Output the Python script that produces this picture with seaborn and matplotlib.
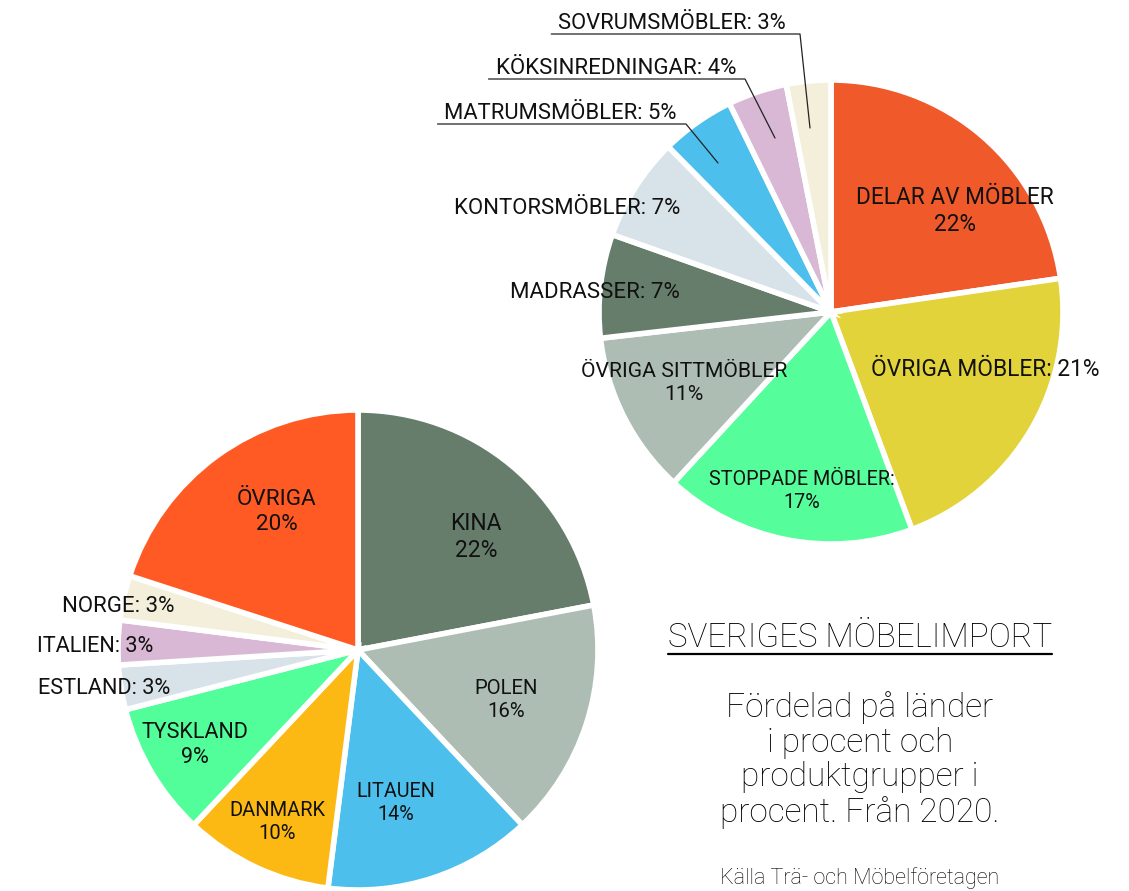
import matplotlib
matplotlib.use("Agg")
import matplotlib.pyplot as plt
import seaborn as sns
from matplotlib.lines import Line2D

# ---------------- data ----------------
country_labels = ["KINA", "POLEN", "LITAUEN", "DANMARK", "TYSKLAND",
                  "ESTLAND", "ITALIEN", "NORGE", "ÖVRIGA"]
country_values = [22, 16, 14, 10, 9, 3, 3, 3, 20]

product_labels = ["DELAR AV MÖBLER", "ÖVRIGA MÖBLER", "STOPPADE MÖBLER",
                  "ÖVRIGA SITTMÖBLER", "MADRASSER", "KONTORSMÖBLER",
                  "MATRUMSMÖBLER", "KÖKSINREDNINGAR", "SOVRUMSMÖBLER"]
product_values = [22, 21, 17, 11, 7, 7, 5, 4, 3]

title = "SVERIGES MÖBELIMPORT"
subtitle = "Fördelad på länder\ni procent och\nproduktgrupper i\nprocent. Från 2020."
source = "Källa Trä- och Möbelföretagen"

# ---------------- styles ----------------
country_colors = ["#667D6C", "#ADBDB3", "#4DBFED", "#FDB913", "#52FE9A",
                  "#D8E3E9", "#D8B8D4", "#F3EFDB", "#FF5A24"]
product_colors = ["#F05A2A", "#E2D33A", "#55FE9B", "#ADBDB3", "#667D6C",
                  "#D8E3E9", "#4DBFED", "#D8B8D4", "#F3EFDB"]

sns.set_theme(style="white")
plt.rcParams['font.family'] = ['Roboto', 'DejaVu Sans']

W, H = 1129, 891
fig = plt.figure(figsize=(W / 100, H / 100), dpi=100)
ax = fig.add_axes([0, 0, 1, 1])


def P(x, y):
    return (x, H - y)


wp = dict(edgecolor="white", linewidth=4)
ax.pie(product_values, colors=product_colors, startangle=90, counterclock=False,
       center=P(831, 312), radius=232, wedgeprops=wp)
ax.pie(country_values, colors=country_colors, startangle=90, counterclock=False,
       center=P(358, 650), radius=240, wedgeprops=wp)

ax.set_xlim(0, W)
ax.set_ylim(0, H)
ax.set_aspect("auto")
ax.axis("off")


def pct(v):
    return f"{v}%"


# label layout: index -> (text style, x, y, ha, fontsize)
top_layout = {
    0: ("two", 955, 211, "center", 16.3),
    1: ("one", 985, 369, "center", 16.4),
    2: ("twocolon", 802, 491, "center", 14.2),
    3: ("two", 684, 383, "center", 15.2),
    4: ("one", 680, 292, "right", 16.0),
    5: ("one", 680, 208, "right", 15.9),
}
bottom_layout = {
    0: ("two", 476, 537, "center", 16.5),
    1: ("two", 506, 700, "center", 14.6),
    2: ("two", 396, 803, "center", 14.2),
    3: ("two", 277, 822, "center", 14.5),
    4: ("two", 195, 745, "center", 15.5),
    5: ("one", 170, 689, "right", 15.7),
    6: ("one", 153, 647, "right", 15.6),
    7: ("one", 175, 607, "right", 16.0),
    8: ("two", 277, 512, "center", 16.2),
}


def make_text(lbl, v, style):
    if style == "two":
        return f"{lbl}\n{pct(v)}"
    if style == "twocolon":
        return f"{lbl}:\n{pct(v)}"
    return f"{lbl}: {pct(v)}"


for labels, values, layout in ((product_labels, product_values, top_layout),
                               (country_labels, country_values, bottom_layout)):
    for i, (style, x, y, ha, fs) in layout.items():
        ax.text(*P(x, y), make_text(labels[i], values[i], style), ha=ha, va="center",
                multialignment="center", fontsize=fs, color="#111111", linespacing=1.22)

# leader-line labels for the three smallest product groups
leader_layout = {
    8: (786, 29, 800, 810, 128, 15.8),
    7: (736, 74, 745, 775, 138, 16.0),
    6: (677, 119, 686, 718, 163, 15.8),
}
renderer = fig.canvas.get_renderer()
for i, (xr, yb, knee, ex, ey, fs) in leader_layout.items():
    t = ax.text(*P(xr, yb), make_text(product_labels[i], product_values[i], "one"),
                ha="right", va="baseline", fontsize=fs, color="#111111")
    bb = t.get_window_extent(renderer=renderer)
    x0 = bb.x0 - 7
    ly = yb + 5
    ax.add_line(Line2D([x0, knee, ex], [H - ly, H - ly, H - ey], color="#222222", lw=0.9))

# title block
tt = ax.text(*P(860, 638), title, ha="center", va="center", fontsize=23.9,
             fontweight="light", color="#000000")
bb = tt.get_window_extent(renderer=renderer)
ax.add_line(Line2D([bb.x0, bb.x1], [H - 654, H - 654], color="#000000", lw=1.6))
ax.text(*P(860, 760), subtitle, ha="center", va="center", fontsize=24,
        fontweight="light", color="#000000", linespacing=1.1, multialignment="center")
ax.text(*P(860, 878), source, ha="center", va="center", fontsize=15.5,
        fontweight="light", color="#000000")

fig.savefig("out.png", dpi=100)
